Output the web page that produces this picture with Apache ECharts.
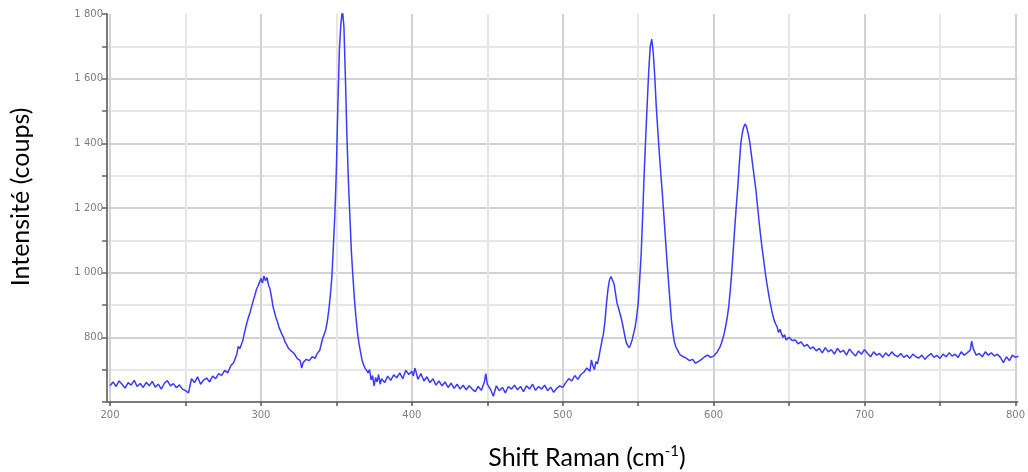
<!DOCTYPE html>
<html>
<head>
<meta charset="utf-8">
<script src="https://cdn.jsdelivr.net/npm/echarts@6/dist/echarts.min.js"></script>
<style>
  html, body { margin: 0; padding: 0; background: #fff; }
  #chart { width: 1028px; height: 472px; }
</style>
</head>
<body>
<div id="chart"></div>
<script>
// Raman spectrum, values (shift in cm-1, counts)
const shifts = [
  200, 202, 204, 206, 208, 210, 212, 214, 216, 218, 220, 222, 224, 226, 228, 230, 232, 234, 236, 238,
  240, 242, 244, 246, 248, 250, 252, 254, 256, 258, 260, 262, 264, 266, 268, 270, 272, 274, 276, 278,
  280, 282, 284, 285, 286, 288, 289, 290, 291, 292, 293, 294, 295, 296, 297, 298, 299, 300, 301, 302,
  303, 304, 305, 306, 307, 308, 309, 310, 311, 312, 313, 314, 315, 316, 317, 318, 319, 320, 322, 324,
  326, 327, 328, 330, 332, 334, 336, 337, 338, 339, 340, 341, 342, 343, 344, 345, 346, 347, 348, 349,
  350, 351, 352, 353, 354, 355, 356, 357, 358, 359, 360, 361, 362, 363, 364, 365, 366, 367, 368, 369,
  370, 371, 372, 373, 374, 375, 376, 377, 378, 379, 380, 382, 384, 386, 388, 390, 392, 394, 396, 398,
  400, 401, 402, 403, 404, 406, 408, 410, 412, 414, 416, 418, 420, 422, 424, 426, 428, 430, 432, 434,
  436, 438, 440, 442, 444, 446, 448, 449, 450, 452, 454, 456, 458, 460, 462, 464, 466, 468, 470, 472,
  474, 476, 478, 480, 482, 484, 486, 488, 490, 492, 494, 496, 498, 500, 502, 504, 506, 508, 510, 512,
  514, 516, 518, 519, 520, 521, 522, 523, 524, 525, 526, 527, 528, 529, 530, 531, 532, 533, 534, 535,
  536, 537, 538, 539, 540, 541, 542, 543, 544, 545, 546, 547, 548, 549, 550, 551, 552, 553, 554, 555,
  556, 557, 558, 559, 560, 561, 562, 563, 564, 565, 566, 567, 568, 569, 570, 571, 572, 573, 574, 575,
  576, 577, 578, 580, 582, 584, 586, 588, 590, 592, 594, 596, 598, 600, 602, 604, 605, 606, 607, 608,
  609, 610, 611, 612, 613, 614, 615, 616, 617, 618, 619, 620, 621, 622, 623, 624, 625, 626, 627, 628,
  629, 630, 631, 632, 633, 634, 635, 636, 637, 638, 639, 640, 641, 642, 643, 644, 645, 646, 647, 648,
  649, 650, 652, 654, 656, 658, 660, 662, 664, 666, 668, 670, 672, 674, 676, 678, 680, 682, 684, 686,
  688, 690, 692, 694, 696, 698, 700, 702, 704, 706, 708, 710, 712, 714, 716, 718, 720, 722, 724, 726,
  728, 730, 732, 734, 736, 738, 740, 742, 744, 746, 748, 750, 752, 754, 756, 758, 760, 762, 764, 766,
  768, 770, 771, 772, 774, 776, 778, 780, 782, 784, 786, 788, 790, 792, 794, 796, 798, 800, 802
];
const counts = [
  650, 662, 648, 665, 655, 643, 660, 652, 667, 648, 657, 645, 661, 650, 664, 646, 655, 640, 658, 666,
  650, 657, 644, 653, 640, 635, 628, 672, 660, 678, 655, 668, 674, 662, 680, 672, 688, 682, 698, 690,
  712, 722, 748, 772, 765, 790, 812, 832, 850, 866, 880, 898, 915, 930, 948, 958, 970, 982, 968, 990,
  975, 985, 962, 950, 925, 895, 878, 860, 848, 830, 820, 808, 800, 785, 778, 768, 772, 758, 750, 735,
  728, 705, 722, 732, 728, 740, 735, 748, 742, 760, 780, 798, 810, 825, 850, 885, 930, 985, 1080, 1180,
  1320, 1520, 1690, 1770, 1815, 1760, 1600, 1420, 1280, 1170, 1060, 985, 915, 860, 815, 780, 755, 730, 715, 705,
  698, 690, 700, 668, 682, 650, 676, 662, 685, 655, 672, 660, 680, 667, 684, 675, 690, 672, 698, 685,
  695, 680, 705, 690, 670, 688, 665, 678, 660, 672, 652, 665, 650, 662, 645, 658, 642, 655, 640, 652,
  638, 650, 640, 632, 648, 636, 660, 688, 655, 640, 618, 650, 635, 645, 628, 648, 640, 652, 638, 648,
  632, 650, 640, 655, 636, 648, 640, 652, 635, 646, 630, 642, 650, 645, 660, 672, 665, 682, 670, 685,
  692, 705, 695, 730, 712, 700, 725, 718, 740, 765, 790, 812, 850, 905, 950, 978, 988, 985, 965, 935,
  905, 890, 872, 855, 832, 808, 785, 775, 768, 778, 792, 812, 832, 865, 905, 980, 1060, 1180, 1310, 1420,
  1525, 1625, 1700, 1722, 1680, 1605, 1512, 1440, 1370, 1305, 1245, 1178, 1110, 1042, 978, 915, 855, 815, 785, 770,
  762, 752, 745, 740, 735, 728, 732, 720, 726, 732, 740, 745, 738, 742, 752, 768, 780, 795, 812, 835,
  862, 895, 945, 1000, 1070, 1140, 1205, 1265, 1335, 1400, 1432, 1452, 1460, 1448, 1428, 1402, 1365, 1328, 1292, 1256,
  1210, 1163, 1120, 1080, 1045, 1008, 975, 946, 918, 894, 872, 854, 842, 833, 815, 825, 810, 800, 808, 792,
  796, 800, 790, 792, 780, 786, 772, 778, 765, 770, 758, 766, 752, 768, 755, 762, 748, 766, 754, 760,
  745, 764, 752, 742, 758, 748, 762, 750, 740, 755, 745, 750, 738, 752, 742, 755, 745, 740, 750, 738,
  745, 735, 748, 740, 736, 745, 732, 742, 750, 738, 744, 735, 748, 740, 752, 742, 748, 738, 755, 745,
  752, 760, 788, 765, 745, 750, 740, 755, 745, 752, 742, 748, 738, 722, 740, 728, 745, 738, 742
];
const xLabelValues = [200, 300, 400, 500, 600, 700, 800];
const xTickValues = [200, 250, 300, 350, 400, 450, 500, 550, 600, 650, 700, 750, 800];
const yLabelValues = [800, 1000, 1200, 1400, 1600, 1800];

const data = shifts.map((s, i) => [s, counts[i]]);

const chart = echarts.init(document.getElementById('chart'));

function spaceThousands(v) {
  return String(v).replace(/(\d)(\d{3})$/, '$1 $2');
}

chart.setOption({
  animation: false,
  backgroundColor: '#fff',
  grid: { left: 107, right: 0, top: 14, bottom: 70 },
  xAxis: {
    type: 'value',
    min: 198,
    max: 801.3,
    axisLine: { show: true, onZero: false, lineStyle: { color: '#7a7a7a', width: 2 } },
    axisTick: { show: true, customValues: xTickValues, length: 4, lineStyle: { color: '#555', width: 1.5 } },
    axisLabel: {
      customValues: xLabelValues,
      color: '#7d7d7d',
      fontFamily: 'DejaVu Sans',
      fontSize: 10,
      margin: 8
    },
    splitLine: { show: true, lineStyle: { color: ['#d2d2d2', '#e6e6e6'], width: 2 } }
  },
  yAxis: {
    type: 'value',
    min: 600,
    max: 1800,
    interval: 100,
    axisLine: { show: true, lineStyle: { color: '#7a7a7a', width: 2 } },
    axisTick: { show: true, length: 5, lineStyle: { color: '#666', width: 1.5 } },
    axisLabel: {
      color: '#7d7d7d',
      fontFamily: 'DejaVu Sans',
      fontSize: 10,
      margin: 4,
      formatter: (v) => (yLabelValues.includes(v) ? spaceThousands(v) : '')
    },
    splitLine: { show: true, showMaxLine: false, lineStyle: { color: ['#d2d2d2', '#e6e6e6'], width: 2 } }
  },
  series: [{
    type: 'line',
    data: data,
    showSymbol: false,
    clip: true,
    lineStyle: { color: '#3b3bff', width: 1.5 }
  }],
  graphic: [
    {
      type: 'text',
      x: 21,
      y: 197,
      rotation: Math.PI / 2,
      style: {
        text: 'Intensité (coups)',
        fill: '#000',
        font: '25px Lato',
        textAlign: 'center',
        textVerticalAlign: 'middle'
      }
    },
    {
      type: 'text',
      x: 587,
      y: 458,
      style: {
        text: 'Shift Raman (cm{sup|-1})',
        fill: '#000',
        font: '25px Lato',
        textAlign: 'center',
        textVerticalAlign: 'middle',
        rich: {
          sup: { fontSize: 15, fontFamily: 'Lato', verticalAlign: 'top', padding: [0, 0, 13, 0] }
        }
      }
    }
  ]
});
</script>
</body>
</html>
